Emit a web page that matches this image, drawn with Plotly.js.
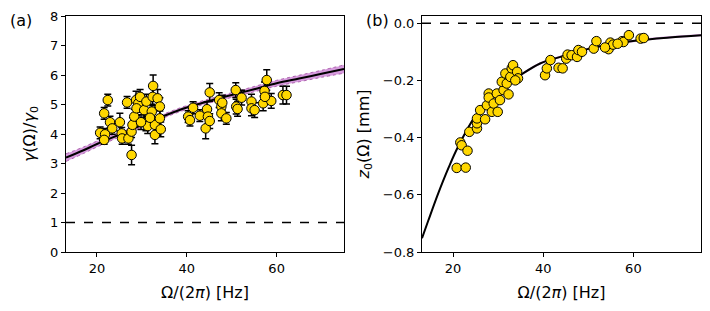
<!DOCTYPE html>
<html><head><meta charset="utf-8">
<script src="https://cdn.plot.ly/plotly-3.0.1.min.js"></script>
<style>html,body{margin:0;padding:0;background:#fff}#c{width:710px;height:311px}</style>
</head><body><div id="c"></div>
<script>
// Panel (a): gamma(Omega)/gamma0
const fa = [20.7,21.6,21.8,21.6,22.4,22.9,23.4,25.1,25.5,25.6,26.7,27.0,27.7,27.7,27.9,28.3,28.7,29.2,29.6,28.8,30.5,31.0,30.9,31.3,32.2,32.4,32.5,32.9,32.9,33.5,34.0,34.0,34.2,31.8,29.8,
            40.3,40.7,41.4,42.9,44.2,44.5,44.7,45.1,45.1,47.2,47.7,47.9,47.7,48.8,50.9,52.2,51.0,51.3,54.4,54.4,55.1,57.0,57.3,57.8,58.8,57.4,61.4,62.2];
const ga = [4.04,4.70,3.99,3.80,5.15,4.40,4.19,4.40,4.02,3.85,5.07,3.85,4.08,3.29,4.31,4.59,5.15,5.04,5.26,4.87,4.81,5.10,4.36,4.27,4.76,5.26,5.63,4.31,3.97,5.21,4.93,4.53,4.16,4.55,4.40,
            4.59,4.47,4.89,4.62,4.19,4.84,4.59,5.41,4.44,5.15,4.93,5.06,4.70,4.53,5.49,5.23,4.93,4.85,5.10,4.87,4.81,5.04,5.46,5.83,5.12,5.26,5.32,5.32];
const ea = [0.2,0.2,0.2,0.15,0.2,0.2,0.2,0.3,0.2,0.2,0.2,0.2,0.2,0.33,0.25,0.25,0.3,0.3,0.25,0.25,0.25,0.25,0.25,0.25,0.25,0.3,0.37,0.25,0.3,0.3,0.3,0.25,0.25,0.25,0.25,
            0.2,0.2,0.2,0.2,0.35,0.25,0.25,0.3,0.25,0.25,0.25,0.25,0.25,0.2,0.25,0.25,0.25,0.25,0.25,0.25,0.25,0.25,0.3,0.35,0.25,0.25,0.3,0.3];
// fit curve (a)
const fitXa = [13.1,17,20,25,30,35,40,45,50,55,60,65,70,75];
const fitYa = [3.2,3.45,3.66,3.98,4.3,4.62,4.9,5.12,5.32,5.52,5.72,5.88,6.04,6.2];
const bandHa = [0.13,0.11,0.1,0.08,0.07,0.065,0.065,0.07,0.08,0.09,0.1,0.11,0.12,0.14];

// Panel (b): z0(Omega)
const fb = [20.8,22.8,21.6,21.9,23.2,23.6,25.3,25.3,25.3,26.0,27.1,27.5,27.9,27.9,28.6,29.0,29.7,29.9,30.4,31.2,30.8,31.9,32.3,31.6,32.7,33.0,33.3,34.2,34.4,33.8,
            40.4,40.8,41.6,43.4,44.3,45.1,45.4,46.3,47.5,47.8,48.6,51.2,51.8,54.5,54.9,55.5,57.5,57.8,59.0,61.6,62.3,56.5,53.7];
const zb = [-0.506,-0.505,-0.417,-0.427,-0.446,-0.380,-0.368,-0.35,-0.333,-0.304,-0.336,-0.287,-0.246,-0.26,-0.310,-0.281,-0.246,-0.310,-0.269,-0.234,-0.205,-0.211,-0.249,-0.176,-0.188,-0.158,-0.147,-0.170,-0.193,-0.2,
            -0.182,-0.158,-0.129,-0.156,-0.158,-0.124,-0.110,-0.112,-0.118,-0.094,-0.100,-0.089,-0.063,-0.091,-0.068,-0.075,-0.063,-0.066,-0.042,-0.054,-0.052,-0.072,-0.085];
const fitXb = [13.1,14.5,16.7,19,21.1,25,30,34.9,39.3,43.8,50,55,61.6,68,75];
const fitYb = [-0.752,-0.69,-0.595,-0.505,-0.432,-0.323,-0.236,-0.182,-0.141,-0.118,-0.090,-0.074,-0.059,-0.050,-0.042];

const xTicks = [20,40,60];
const yTicksA = [0,1,2,3,4,5,6,7,8];
const yTicksB = [-0.8,-0.6,-0.4,-0.2,0.0];

const up = fitYa.map((v,i)=>v+bandHa[i]);
const lo = fitYa.map((v,i)=>v-bandHa[i]);
const upb = fitYb.map(v=>v+0.004);
const lob = fitYb.map(v=>v-0.004);

const marker = {color:'#FFD700', size:9.5, line:{color:'#000', width:1}};
const traces = [
  {x:fitXa, y:lo, mode:'lines', line:{color:'#a04ca0', width:0.8, dash:'dot', shape:'spline'}, xaxis:'x', yaxis:'y', hoverinfo:'skip'},
  {x:fitXa, y:up, mode:'lines', fill:'tonexty', fillcolor:'rgba(200,120,210,0.75)', line:{color:'#a04ca0', width:0.8, dash:'dot', shape:'spline'}, xaxis:'x', yaxis:'y', hoverinfo:'skip'},
  {x:fitXa, y:fitYa, mode:'lines', line:{color:'#000', width:2, shape:'spline'}, xaxis:'x', yaxis:'y'},
  {x:[13.1,75], y:[1,1], mode:'lines', line:{color:'#000', width:1.5, dash:'dash'}, xaxis:'x', yaxis:'y'},
  {x:fa, y:ga, mode:'markers', marker:marker, error_y:{type:'data', array:ea, visible:true, color:'#000', thickness:1.5, width:3.5}, xaxis:'x', yaxis:'y'},

  {x:fitXb, y:lob, mode:'lines', line:{color:'rgba(205,130,215,0)', width:0, shape:'spline'}, xaxis:'x2', yaxis:'y2', hoverinfo:'skip'},
  {x:fitXb, y:upb, mode:'lines', fill:'tonexty', fillcolor:'rgba(205,130,215,0.8)', line:{color:'rgba(205,130,215,0)', width:0, shape:'spline'}, xaxis:'x2', yaxis:'y2', hoverinfo:'skip'},
  {x:fitXb, y:fitYb, mode:'lines', line:{color:'#000', width:2, shape:'spline'}, xaxis:'x2', yaxis:'y2'},
  {x:[13.1,75], y:[0,0], mode:'lines', line:{color:'#000', width:1.5, dash:'dash'}, xaxis:'x2', yaxis:'y2'},
  {x:fb, y:zb, mode:'markers', marker:marker, xaxis:'x2', yaxis:'y2'}
];

const font = {family:'DejaVu Sans', size:13, color:'#000'};
const tfont = {family:'DejaVu Sans', size:16, color:'#000'};
const axBase = {showline:true, linecolor:'#000', linewidth:1, mirror:true, ticks:'outside', ticklen:4, tickcolor:'#000', tickwidth:1, showgrid:false, zeroline:false, automargin:false, tickfont:font};
const layout = {
  width:710, height:311, margin:{l:0,r:0,t:0,b:0}, showlegend:false,
  paper_bgcolor:'#fff', plot_bgcolor:'#fff', font:font,
  xaxis:Object.assign({}, axBase, {domain:[66/710, 344/710], range:[13.1,75], tickvals:xTicks, anchor:'y',
        title:{text:'Ω/(2<i>π</i>) [Hz]', font:tfont, standoff:12}}),
  yaxis:Object.assign({}, axBase, {domain:[59/311, 295/311], range:[0,8], tickvals:yTicksA, anchor:'x',
        title:{text:'<i>γ</i>(Ω)/<i>γ</i><sub>0</sub>', font:tfont, standoff:10}}),
  xaxis2:Object.assign({}, axBase, {domain:[422/710, 701/710], range:[13.1,75], tickvals:xTicks, anchor:'y2',
        title:{text:'Ω/(2<i>π</i>) [Hz]', font:tfont, standoff:12}}),
  yaxis2:Object.assign({}, axBase, {domain:[59/311, 295/311], range:[-0.8,0.025], tickvals:yTicksB, tickformat:'.1f', anchor:'x2',
        title:{text:'<i>z</i><sub>0</sub>(Ω) [mm]', font:tfont, standoff:9}}),
  annotations:[
    {text:'(a)', xref:'paper', yref:'paper', x:21/710, y:(311-21)/311, xanchor:'center', yanchor:'middle', showarrow:false, font:tfont},
    {text:'(b)', xref:'paper', yref:'paper', x:378/710, y:(311-21)/311, xanchor:'center', yanchor:'middle', showarrow:false, font:tfont}
  ]
};
Plotly.newPlot('c', traces, layout, {staticPlot:true, displayModeBar:false});
</script></body></html>
